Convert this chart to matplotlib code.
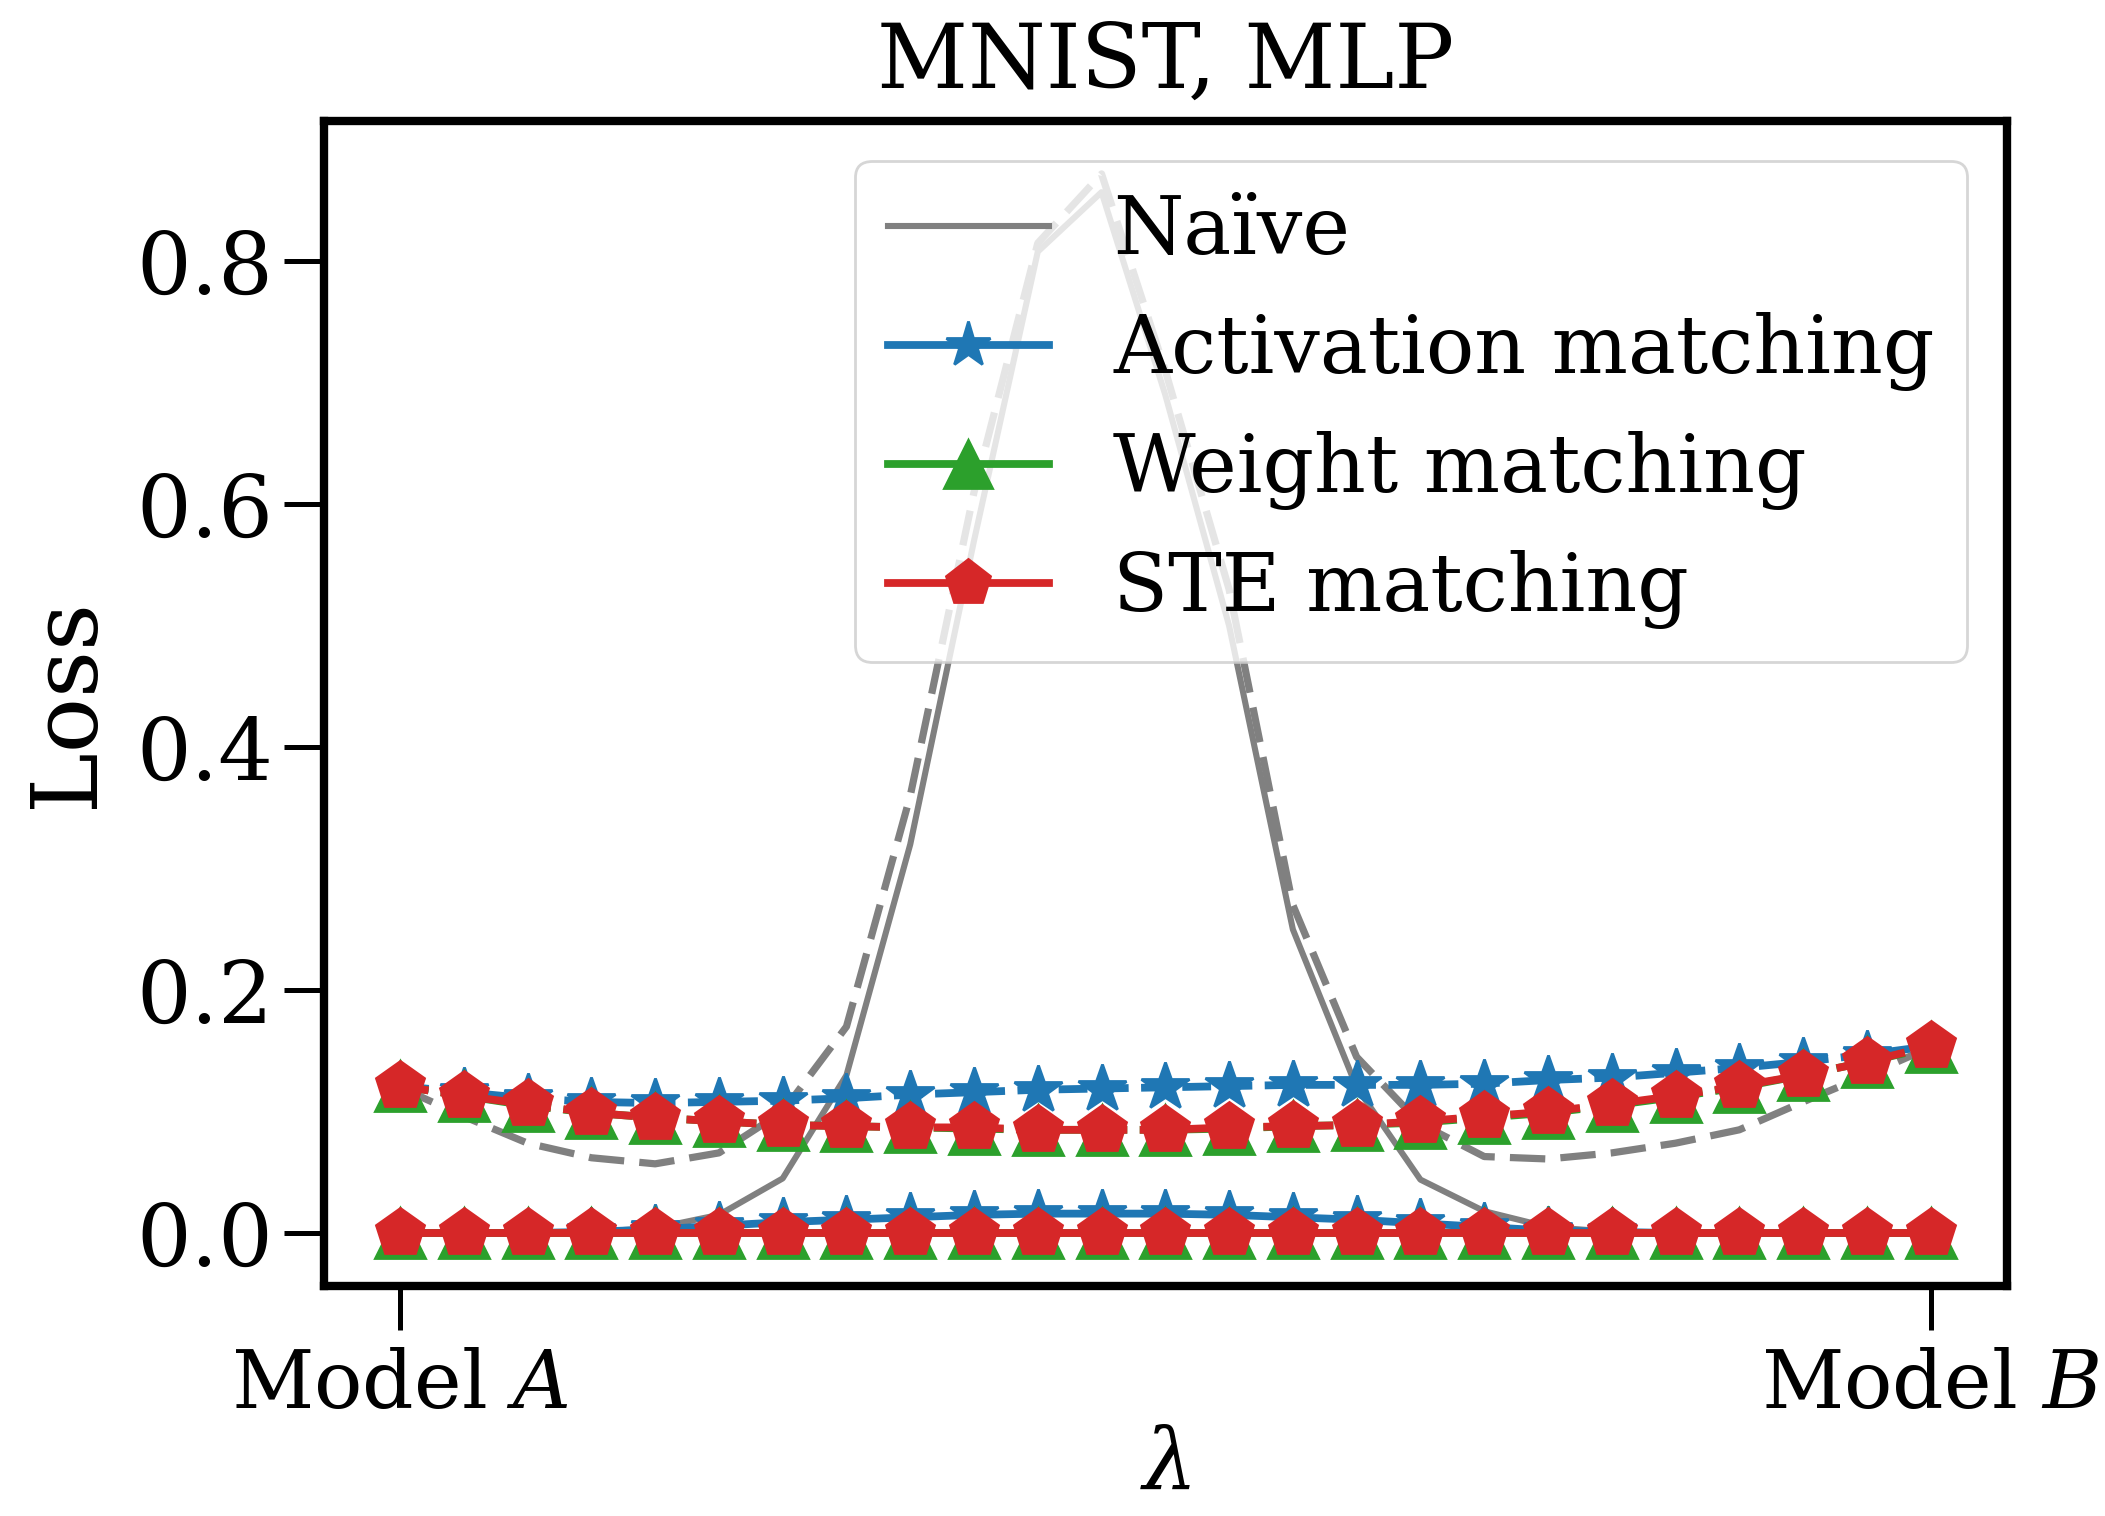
import matplotlib
matplotlib.use("Agg")
import matplotlib.pyplot as plt
import numpy as np

plt.rcParams["font.family"] = "DejaVu Serif"
plt.rcParams["mathtext.fontset"] = "dejavuserif"

# interpolation coefficient between the two endpoint models
n_points = 25
lam = np.linspace(0, 1, n_points)

naive_train = [0.0, 0.0, 0.0, 0.001, 0.004, 0.015, 0.045, 0.13, 0.32, 0.57, 0.808, 0.857,
               0.69, 0.50, 0.25, 0.12, 0.044, 0.018, 0.005, 0.001, 0.0, 0.0, 0.0, 0.0, 0.0]
naive_test = [0.12, 0.096, 0.074, 0.062, 0.057, 0.066, 0.10, 0.17, 0.36, 0.61, 0.815, 0.872,
              0.71, 0.53, 0.27, 0.145, 0.09, 0.063, 0.061, 0.066, 0.074, 0.085, 0.108, 0.13, 0.153]

act_train = [0.0, 0.0, 0.0, 0.001, 0.003, 0.006, 0.009, 0.011, 0.013, 0.015, 0.016, 0.016,
             0.016, 0.015, 0.013, 0.011, 0.008, 0.005, 0.002, 0.001, 0.0, 0.0, 0.0, 0.0, 0.0]
act_test = [0.121, 0.116, 0.111, 0.108, 0.107, 0.108, 0.109, 0.111, 0.114, 0.116, 0.118, 0.119,
            0.120, 0.121, 0.122, 0.122, 0.122, 0.123, 0.126, 0.128, 0.132, 0.136, 0.141, 0.147, 0.154]

wm_train = [0.0] * n_points
wm_test = [0.121, 0.113, 0.105, 0.099, 0.095, 0.092, 0.089, 0.088, 0.087, 0.086, 0.085, 0.085,
           0.085, 0.086, 0.088, 0.089, 0.091, 0.095, 0.099, 0.105, 0.112, 0.120, 0.130, 0.141, 0.153]

ste_train = [0.0] * n_points
ste_test = [0.121, 0.113, 0.106, 0.099, 0.095, 0.092, 0.089, 0.088, 0.087, 0.087, 0.085, 0.085,
            0.085, 0.087, 0.088, 0.089, 0.092, 0.096, 0.100, 0.106, 0.113, 0.121, 0.130, 0.141, 0.154]

methods = [
    ("Activation matching", act_train, act_test, "tab:blue", "*"),
    ("Weight matching", wm_train, wm_test, "tab:green", "^"),
    ("STE matching", ste_train, ste_test, "tab:red", "p"),
]

fs = 29
fig = plt.figure(figsize=(10.525, 7.58), dpi=200)
ax = fig.add_axes([0.1537, 0.1517, 0.7998, 0.7685])

ax.plot(lam, naive_train, color="gray", lw=2.2, label="Naïve")
ax.plot(lam, naive_test, color="gray", lw=2.6, linestyle=(0, (4.9, 2.1)))

for name, tr, te, c, m in methods:
    ax.plot(lam, tr, color=c, marker=m, markersize=18, lw=2.8, label=name)
    ax.plot(lam, te, color=c, marker=m, markersize=18, lw=2.8, linestyle=(0, (3.7, 1.6)))

ax.set_xticks([0, 1])
ax.set_xticklabels(["Model $A$", "Model $B$"])
ax.set_yticks([0.0, 0.2, 0.4, 0.6, 0.8])
ax.tick_params(axis="x", labelsize=fs, width=1.8, length=16, pad=6)
ax.tick_params(axis="y", labelsize=31, width=1.8, length=14.5, pad=3.5)
for s in ax.spines.values():
    s.set_linewidth(3.0)

ax.set_xlabel(r"$\lambda$", fontsize=31, labelpad=0)
ax.set_ylabel("Loss", fontsize=33, labelpad=9)
ax.set_title("MNIST, MLP", fontsize=32, pad=12)
ax.legend(fontsize=fs, loc="upper right", numpoints=1, markerscale=17 / 18)

fig.savefig("out.png", dpi=200)
